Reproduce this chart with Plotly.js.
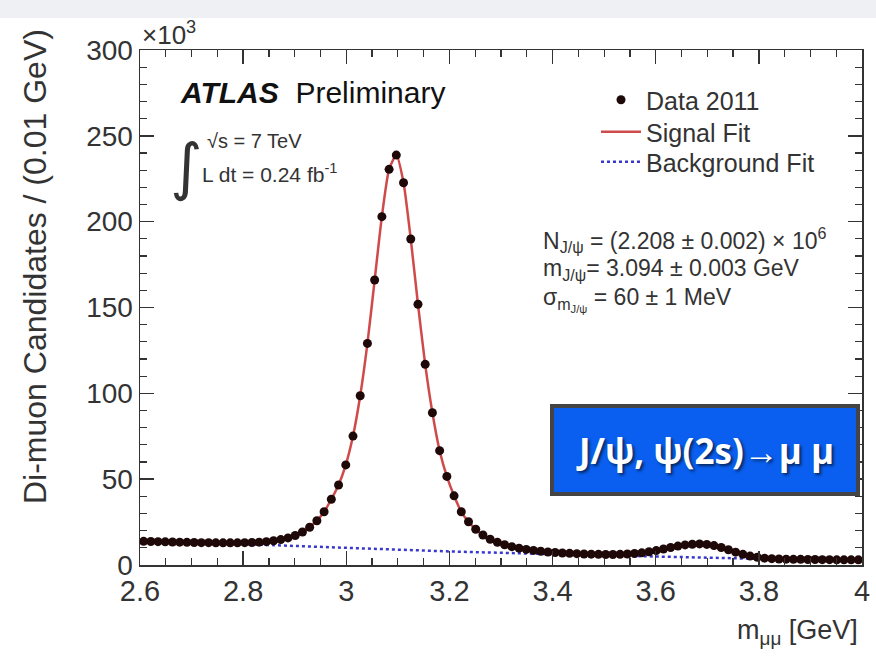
<!DOCTYPE html>
<html>
<head>
<meta charset="utf-8">
<script src="https://cdn.plot.ly/plotly-3.0.1.min.js"></script>
<style>html,body{margin:0;padding:0;background:#fff;}#chart{width:876px;height:664px;}</style>
</head>
<body>
<div id="chart"></div>
<script>
// Di-muon invariant mass bin centres (GeV)
const massBins = [
  2.607,2.621,2.635,2.649,2.663,2.677,2.691,2.705,2.719,2.733,
  2.747,2.761,2.775,2.789,2.803,2.817,2.831,2.845,2.859,2.873,
  2.887,2.901,2.915,2.929,2.943,2.957,2.971,2.985,2.999,3.013,
  3.027,3.041,3.055,3.069,3.083,3.097,3.111,3.125,3.139,3.153,
  3.167,3.181,3.195,3.209,3.223,3.237,3.251,3.265,3.279,3.293,
  3.307,3.321,3.335,3.349,3.363,3.377,3.391,3.405,3.419,3.433,
  3.447,3.461,3.475,3.489,3.503,3.517,3.531,3.545,3.559,3.573,
  3.587,3.601,3.615,3.629,3.643,3.657,3.671,3.685,3.699,3.713,
  3.727,3.741,3.755,3.769,3.783,3.797,3.811,3.825,3.839,3.853,
  3.867,3.881,3.895,3.909,3.923,3.937,3.951,3.965,3.979,3.993
];
// Candidates per bin (x10^3)
const dataCounts = [
  13.8,13.7,13.6,13.5,13.4,13.3,13.2,13.1,13.0,13.0,
  12.9,12.9,12.9,12.9,13.0,13.1,13.3,13.6,14.1,14.8,
  15.8,17.2,19.2,22.0,25.8,31.0,38.3,46.6,58.3,75.1,
  98.6,129.1,166.0,202.9,230.5,238.8,222.7,189.9,151.9,116.9,
  88.7,66.6,51.6,40.3,31.0,25.2,20.8,17.5,15.0,13.2,
  11.8,10.7,9.8,9.1,8.5,8.0,7.6,7.3,7.0,6.8,
  6.6,6.4,6.3,6.2,6.1,6.1,6.2,6.4,6.7,7.1,
  7.7,8.4,9.3,10.2,11.0,11.7,12.1,12.3,12.0,11.3,
  10.2,8.9,7.5,6.2,5.2,4.5,4.0,3.7,3.5,3.4,
  3.3,3.3,3.2,3.2,3.1,3.1,3.0,3.0,3.0,3.0
];
// Signal fit curve (x10^3), evaluated at the bin centres
const signalFit = [
  14.2,13.9,13.7,13.5,13.4,13.3,13.2,13.1,13.0,13.0,
  12.9,12.9,12.9,12.9,13.0,13.1,13.3,13.6,14.1,14.8,
  15.8,17.2,19.2,22.0,25.8,31.0,38.3,46.6,58.3,75.1,
  98.6,129.1,166.0,202.9,230.5,238.8,222.7,189.9,151.9,116.9,
  88.7,66.6,51.6,40.3,31.0,25.2,20.8,17.5,15.0,13.2,
  11.8,10.7,9.8,9.1,8.5,8.0,7.6,7.3,7.0,6.8,
  6.6,6.4,6.3,6.2,6.1,6.1,6.2,6.4,6.7,7.1,
  7.7,8.4,9.3,10.2,11.0,11.7,12.1,12.3,12.0,11.3,
  10.2,8.9,7.5,6.2,5.2,4.5,4.0,3.7,3.5,3.4,
  3.3,3.3,3.2,3.2,3.1,3.1,3.0,3.0,3.0,3.0
];
// Background fit (x10^3)
const bgMass = [2.6, 2.8, 3.0, 3.2, 3.4, 3.6, 3.8, 4.0];
const bgFit  = [13.5, 12.2, 10.0, 7.9, 6.3, 4.8, 3.6, 2.8];

const xTicks = [2.6, 2.8, 3.0, 3.2, 3.4, 3.6, 3.8, 4.0];
const xTickText = ['2.6', '2.8', '3', '3.2', '3.4', '3.6', '3.8', '4'];
const yTicks = [0, 50, 100, 150, 200, 250, 300];

const FONT = 'Liberation Sans, Arial, Helvetica, sans-serif';
const TXT = '#333333';

const traces = [
  {x: bgMass, y: bgFit, mode: 'lines', name: 'Background Fit', legend: 'legend3',
   line: {color: '#3838d0', dash: 'dot', width: 2.5}},
  {x: massBins, y: signalFit, mode: 'lines', name: 'Signal Fit', legend: 'legend2',
   line: {color: '#cf4a4a', width: 2.5, shape: 'spline', smoothing: 0.6}},
  {x: massBins, y: dataCounts, mode: 'markers', name: 'Data 2011', legend: 'legend',
   marker: {color: '#1e0808', size: 9}}
];

function py(p){ return (565 - p) / 515; }
function px(p){ return (p - 140) / 722; }

const legendBase = {xanchor: 'left', yanchor: 'middle', bgcolor: 'rgba(0,0,0,0)',
  font: {family: FONT, size: 25, color: TXT}, itemwidth: 40, borderwidth: 0};

const layout = {
  width: 876, height: 664,
  margin: {l: 140, r: 14, t: 50, b: 99},
  paper_bgcolor: '#ffffff', plot_bgcolor: '#ffffff',
  font: {family: FONT, color: TXT},
  showlegend: true,
  legend:  Object.assign({}, legendBase, {x: px(596), y: py(100)}),
  legend2: Object.assign({}, legendBase, {x: px(596), y: py(132)}),
  legend3: Object.assign({}, legendBase, {x: px(596), y: py(162)}),
  xaxis: {
    range: [2.6, 4.0], tickvals: xTicks, ticktext: xTickText,
    ticks: 'inside', ticklen: 14, tickwidth: 1.5, tickcolor: '#333',
    minor: {dtick: 0.05, tick0: 2.6, ticks: 'inside', ticklen: 7, tickwidth: 1.2, tickcolor: '#333', showgrid: false},
    mirror: 'ticks', showline: true, linecolor: '#333', linewidth: 1.5,
    showgrid: false, zeroline: false,
    tickfont: {family: FONT, size: 29, color: TXT}
  },
  yaxis: {
    range: [0, 300], tickvals: yTicks,
    ticks: 'inside', ticklen: 14, tickwidth: 1.5, tickcolor: '#333',
    minor: {dtick: 10, tick0: 0, ticks: 'inside', ticklen: 7, tickwidth: 1.2, tickcolor: '#333', showgrid: false},
    mirror: 'ticks', showline: true, linecolor: '#333', linewidth: 1.5,
    showgrid: false, zeroline: false,
    tickfont: {family: FONT, size: 28, color: TXT}
  },
  shapes: [
    {type: 'rect', xref: 'paper', yref: 'paper', x0: -0.3, x1: 1.1, y0: py(18), y1: py(-5),
     fillcolor: '#eef0f4', line: {width: 0}, layer: 'below'}
  ],
  annotations: [
    {xref: 'paper', yref: 'paper', x: px(35), y: py(267), xanchor: 'center', yanchor: 'middle',
     text: 'Di-muon Candidates / (0.01 GeV)',
     textangle: -90, showarrow: false, font: {family: FONT, size: 32, color: TXT}},
    {xref: 'paper', yref: 'paper', x: 0.997, y: py(632), xanchor: 'right', yanchor: 'middle',
     text: 'm<sub>μμ</sub> [GeV]', showarrow: false, font: {family: FONT, size: 27, color: TXT}},
    {xref: 'paper', yref: 'paper', x: 0, y: py(34), xanchor: 'left', yanchor: 'middle',
     text: '×10<sup>3</sup>', showarrow: false, font: {family: FONT, size: 26, color: TXT}},
    {xref: 'paper', yref: 'paper', x: px(178), y: py(92), xanchor: 'left', yanchor: 'middle',
     text: '<b><i>ATLAS</i></b>  Preliminary', showarrow: false, font: {family: FONT, size: 30, color: '#111'}},
    {xref: 'paper', yref: 'paper', x: px(186), y: py(166), xanchor: 'center', yanchor: 'middle',
     text: '∫', showarrow: false, font: {family: 'DejaVu Sans, sans-serif', size: 62, color: TXT}},
    {xref: 'paper', yref: 'paper', x: px(205), y: py(141), xanchor: 'left', yanchor: 'middle',
     text: '√s = 7 TeV', showarrow: false, font: {family: FONT, size: 20, color: TXT}},
    {xref: 'paper', yref: 'paper', x: px(200), y: py(173), xanchor: 'left', yanchor: 'middle',
     text: 'L dt = 0.24 fb<sup>-1</sup>', showarrow: false, font: {family: FONT, size: 21, color: TXT}},
    {xref: 'paper', yref: 'paper', x: px(541), y: py(240), xanchor: 'left', yanchor: 'middle',
     text: 'N<sub>J/ψ</sub> = (2.208 ± 0.002) × 10<sup>6</sup>', showarrow: false, font: {family: FONT, size: 23, color: TXT}},
    {xref: 'paper', yref: 'paper', x: px(541), y: py(269), xanchor: 'left', yanchor: 'middle',
     text: 'm<sub>J/ψ</sub>= 3.094 ± 0.003 GeV', showarrow: false, font: {family: FONT, size: 23, color: TXT}},
    {xref: 'paper', yref: 'paper', x: px(541), y: py(299), xanchor: 'left', yanchor: 'middle',
     text: 'σ<sub>m<sub>J/ψ</sub></sub> = 60 ± 1 MeV', showarrow: false, font: {family: FONT, size: 23, color: TXT}},
    {xref: 'paper', yref: 'paper', x: px(705), y: py(450), xanchor: 'center', yanchor: 'middle',
     text: '<b>J/ψ, ψ(2s)→μ μ</b>', showarrow: false, width: 302, height: 84,
     bgcolor: '#0a5ff0', bordercolor: '#444', borderwidth: 4, borderpad: 0,
     font: {family: 'Open Sans, sans-serif', size: 35, color: '#ffffff', shadow: '2px 2px 3px rgba(0,0,0,0.6)'}}
  ]
};

Plotly.newPlot('chart', traces, layout, {displayModeBar: false, staticPlot: true});
</script>
</body>
</html>
